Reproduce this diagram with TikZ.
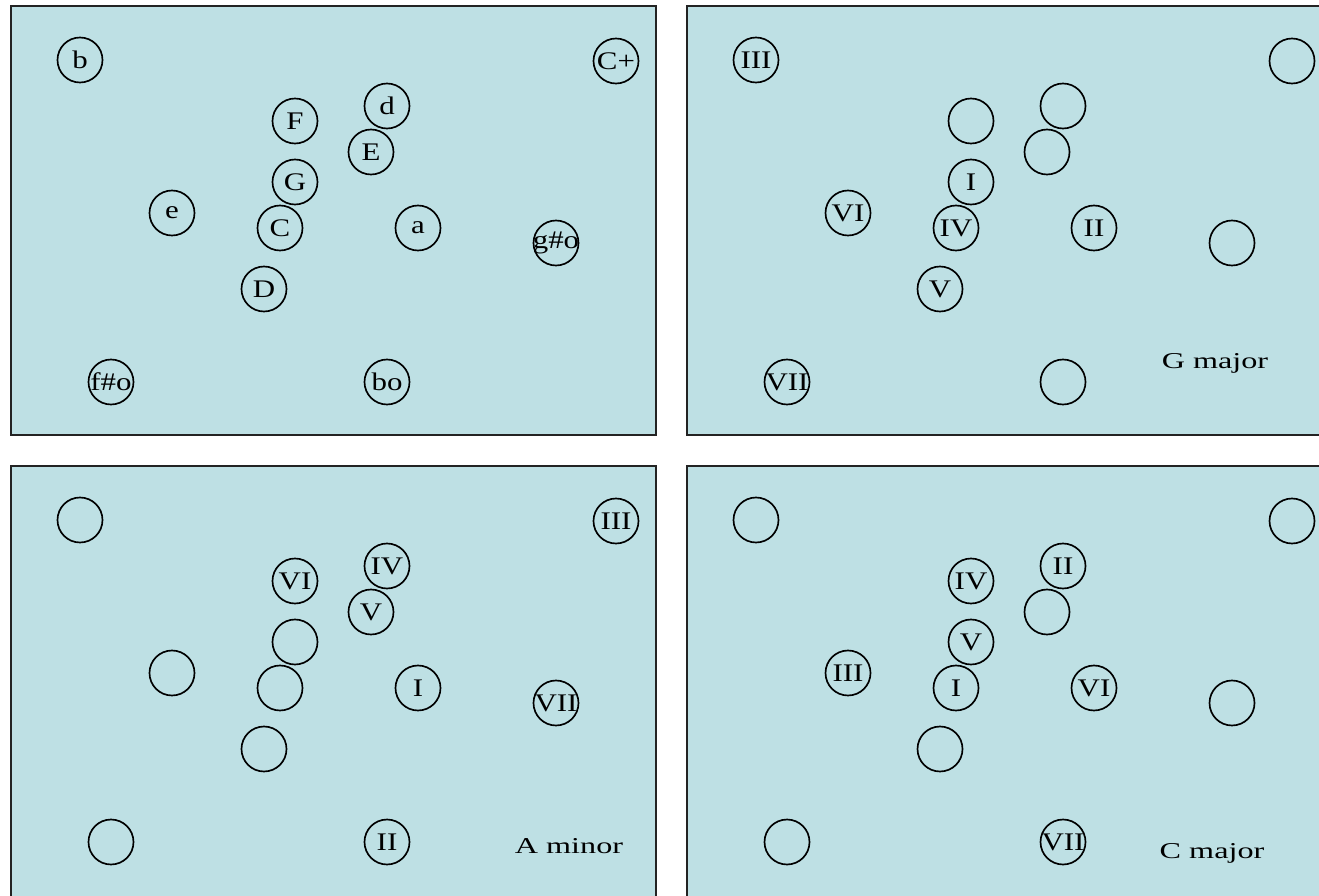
\documentclass[tikz,border=0pt]{standalone}
\usepackage{fontspec}
\setmainfont{Liberation Serif}[FakeStretch=1.22]
\newfontfamily\keyfont{Liberation Serif}[FakeStretch=1.42]
\definecolor{panelfill}{RGB}{190,224,228}
\definecolor{panelline}{RGB}{35,35,35}
\newcommand\chordtext[1]{\makebox[0pt][c]{#1}}
\begin{document}
\begin{tikzpicture}[x=0.75pt,y=-0.75pt,
  chord/.style={circle, draw=black, line width=1.25pt, minimum size=33.75pt,
    inner sep=0pt, font=\fontsize{19}{19}\selectfont},
  panelbox/.style={draw=panelline, line width=1.2pt, fill=panelfill},
  keylabel/.style={font=\keyfont\fontsize{17}{17}\selectfont, inner sep=0pt}]
\clip (0,0) rectangle (1319,895);
\fill[white] (0,0) rectangle (1319,895);

% ---------- panel 1: chord names ----------
\begin{scope}[shift={(11,6)}, name prefix=p1-]
  \draw[panelbox] (0,0) rectangle (645,429);
  \node[chord] (b)   at (69,54)   {\chordtext{b}};
  \node[chord] (Cp)  at (605,55)  {\chordtext{C+}};
  \node[chord] (d)   at (376,100) {\chordtext{d}};
  \node[chord] (F)   at (284,115) {\chordtext{F}};
  \node[chord] (E)   at (360,146) {\chordtext{E}};
  \node[chord] (G)   at (284,176) {\chordtext{G}};
  \node[chord] (e)   at (161,207) {\chordtext{e}};
  \node[chord] (C)   at (269,222) {\chordtext{C}};
  \node[chord] (a)   at (407,222) {\chordtext{a}};
  \node[chord] (gso) at (545,237) {\chordtext{g\#o}};
  \node[chord] (D)   at (253,283) {\chordtext{D}};
  \node[chord] (fso) at (100,376) {\chordtext{f\#o}};
  \node[chord] (bo)  at (376,376) {\chordtext{bo}};
\end{scope}

% ---------- panel 2: G major ----------
\begin{scope}[shift={(687,6)}, name prefix=p2-]
  \draw[panelbox] (0,0) rectangle (645,429);
  \node[chord] (b)   at (69,54)   {\chordtext{III}};
  \node[chord] (Cp)  at (605,55)  {};
  \node[chord] (d)   at (376,100) {};
  \node[chord] (F)   at (284,115) {};
  \node[chord] (E)   at (360,146) {};
  \node[chord] (G)   at (284,176) {\chordtext{I}};
  \node[chord] (e)   at (161,207) {\chordtext{VI}};
  \node[chord] (C)   at (269,222) {\chordtext{IV}};
  \node[chord] (a)   at (407,222) {\chordtext{II}};
  \node[chord] (gso) at (545,237) {};
  \node[chord] (D)   at (253,283) {\chordtext{V}};
  \node[chord] (fso) at (100,376) {\chordtext{VII}};
  \node[chord] (bo)  at (376,376) {};
  \node[keylabel] (key) at (528,357) {G major};
\end{scope}

% ---------- panel 3: A minor ----------
\begin{scope}[shift={(11,466)}, name prefix=p3-]
  \draw[panelbox] (0,0) rectangle (645,432);
  \node[chord] (b)   at (69,54)   {};
  \node[chord] (Cp)  at (605,55)  {\chordtext{III}};
  \node[chord] (d)   at (376,100) {\chordtext{IV}};
  \node[chord] (F)   at (284,115) {\chordtext{VI}};
  \node[chord] (E)   at (360,146) {\chordtext{V}};
  \node[chord] (G)   at (284,176) {};
  \node[chord] (e)   at (161,207) {};
  \node[chord] (C)   at (269,222) {};
  \node[chord] (a)   at (407,222) {\chordtext{I}};
  \node[chord] (gso) at (545,237) {\chordtext{VII}};
  \node[chord] (D)   at (253,283) {};
  \node[chord] (fso) at (100,376) {};
  \node[chord] (bo)  at (376,376) {\chordtext{II}};
  \node[keylabel] (key) at (558,380) {A minor};
\end{scope}

% ---------- panel 4: C major ----------
\begin{scope}[shift={(687,466)}, name prefix=p4-]
  \draw[panelbox] (0,0) rectangle (645,432);
  \node[chord] (b)   at (69,54)   {};
  \node[chord] (Cp)  at (605,55)  {};
  \node[chord] (d)   at (376,100) {\chordtext{II}};
  \node[chord] (F)   at (284,115) {\chordtext{IV}};
  \node[chord] (E)   at (360,146) {};
  \node[chord] (G)   at (284,176) {\chordtext{V}};
  \node[chord] (e)   at (161,207) {\chordtext{III}};
  \node[chord] (C)   at (269,222) {\chordtext{I}};
  \node[chord] (a)   at (407,222) {\chordtext{VI}};
  \node[chord] (gso) at (545,237) {};
  \node[chord] (D)   at (253,283) {};
  \node[chord] (fso) at (100,376) {};
  \node[chord] (bo)  at (376,376) {\chordtext{VII}};
  \node[keylabel] (key) at (525,387) {C major};
\end{scope}
\end{tikzpicture}
\end{document}
